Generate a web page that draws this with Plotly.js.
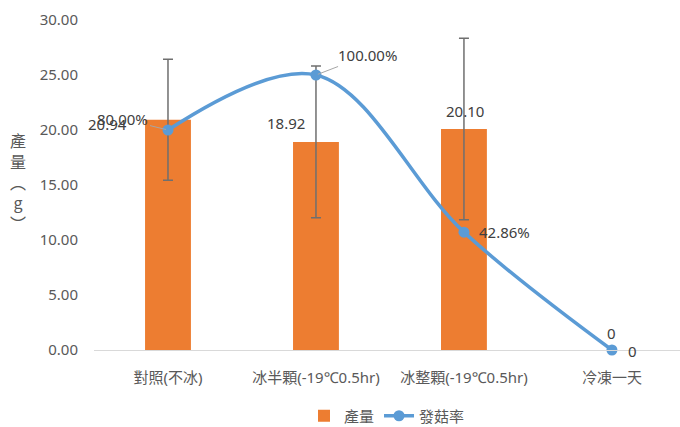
<!DOCTYPE html>
<html>
<head>
<meta charset="utf-8">
<script src="https://cdn.plot.ly/plotly-3.0.1.min.js"></script>
<style>html,body{margin:0;padding:0;background:#fff;}#chart{width:680px;height:427px;}</style>
</head>
<body>
<div id="chart"></div>
<script>
const categories = ['對照(不冰)', '冰半顆(-19℃0.5hr)', '冰整顆(-19℃0.5hr)', '冷凍一天'];
const yieldValues = [20.94, 18.92, 20.10, 0];
const yieldErrors = [5.5, 6.9, 8.25, 0];
const rateValues = [0.80, 1.00, 0.4286, 0];
const yTicks = [0, 5, 10, 15, 20, 25, 30];

const idx = categories.map((_, i) => i);
const FONT = '"Noto Sans", "Noto Sans CJK TC", sans-serif';
const CJK = '"Noto Sans CJK TC", "Noto Sans", sans-serif';
const GRAY = '#595959';

const traces = [
  {
    type: 'bar', name: '產量', x: idx, y: yieldValues, width: 0.31,
    marker: {color: '#ED7D31'},
    error_y: {type: 'data', array: yieldErrors, visible: true, color: '#6f6f6f', thickness: 1.5, width: 5}
  },
  {
    type: 'scatter', mode: 'lines+markers', name: '發菇率', x: idx, y: rateValues, yaxis: 'y2',
    line: {color: '#5B9BD5', width: 3.5, shape: 'spline', smoothing: 1},
    marker: {color: '#5B9BD5', size: 11}, cliponaxis: false
  }
];

function fmtBar(v){ return v === 0 ? '0' : v.toFixed(2); }
function fmtRate(v){ return v === 0 ? '0' : (v*100).toFixed(2) + '%'; }

const lab = {font: {family: FONT, size: 15, color: '#404040'}, showarrow: false};
const annotations = [
  Object.assign({x: 0, y: yieldValues[0], xref: 'x', yref: 'y', text: fmtBar(yieldValues[0]), xanchor: 'right', yanchor: 'middle', xshift: -39, yshift: -4}, lab),
  Object.assign({x: 1, y: yieldValues[1], xref: 'x', yref: 'y', text: fmtBar(yieldValues[1]), xanchor: 'center', yanchor: 'middle', xshift: -30, yshift: 19}, lab),
  Object.assign({x: 2, y: yieldValues[2], xref: 'x', yref: 'y', text: fmtBar(yieldValues[2]), xanchor: 'center', yanchor: 'middle', xshift: 1, yshift: 18}, lab),
  Object.assign({x: 3, y: yieldValues[3], xref: 'x', yref: 'y', text: fmtBar(yieldValues[3]), xanchor: 'center', yanchor: 'middle', xshift: 0, yshift: 17}, lab),
  {x: 0, y: rateValues[0], xref: 'x', yref: 'y2', text: fmtRate(rateValues[0]), showarrow: true, arrowhead: 0, arrowwidth: 1, arrowcolor: '#a6a6a6', ax: -45, ay: -11, standoff: 2, font: {family: FONT, size: 15, color: '#404040'}},
  {x: 1, y: rateValues[1], xref: 'x', yref: 'y2', text: fmtRate(rateValues[1]), showarrow: true, arrowhead: 0, arrowwidth: 1, arrowcolor: '#a6a6a6', ax: 52, ay: -20, standoff: 2, font: {family: FONT, size: 15, color: '#404040'}},
  Object.assign({x: 2, y: rateValues[2], xref: 'x', yref: 'y2', text: fmtRate(rateValues[2]), xanchor: 'left', yanchor: 'middle', xshift: 13, yshift: 0}, lab),
  Object.assign({x: 3, y: rateValues[3], xref: 'x', yref: 'y2', text: fmtRate(rateValues[3]), xanchor: 'left', yanchor: 'middle', xshift: 14, yshift: -1}, lab),
  {xref: 'paper', yref: 'paper', x: -0.13, y: 0.51, xanchor: 'center', yanchor: 'middle', showarrow: false,
   text: '產<br>量<br>︵<br>g<br>︶', font: {family: CJK, size: 16, color: GRAY}}
];

const layout = {
  width: 680, height: 427,
  margin: {l: 94, r: 0, t: 20, b: 77, autoexpand: false},
  paper_bgcolor: '#ffffff', plot_bgcolor: '#ffffff',
  font: {family: FONT, size: 15, color: GRAY},
  showlegend: true,
  legend: {orientation: 'h', x: 0.5, xanchor: 'center', y: -0.2, yanchor: 'middle', font: {family: FONT, size: 15, color: GRAY}},
  xaxis: {
    range: [-0.5, 3.46], tickmode: 'array', tickvals: idx, ticktext: categories,
    showgrid: false, zeroline: false, showline: true, linecolor: '#d9d9d9', linewidth: 1, ticks: '',
    ticklabelstandoff: 14, automargin: false,
    tickfont: {family: FONT, size: 15, color: GRAY}
  },
  yaxis: {
    range: [0, 30], tickmode: 'array', tickvals: yTicks, ticktext: yTicks.map(v => v.toFixed(2)),
    showgrid: false, zeroline: false, showline: false, ticks: '', ticklabelstandoff: 15, automargin: false,
    tickfont: {family: FONT, size: 15, color: GRAY}
  },
  yaxis2: {range: [0, 1.2], overlaying: 'y', side: 'right', visible: false},
  annotations: annotations,
  bargap: 0.69
};

Plotly.newPlot('chart', traces, layout, {displayModeBar: false, staticPlot: true});
</script>
</body>
</html>
